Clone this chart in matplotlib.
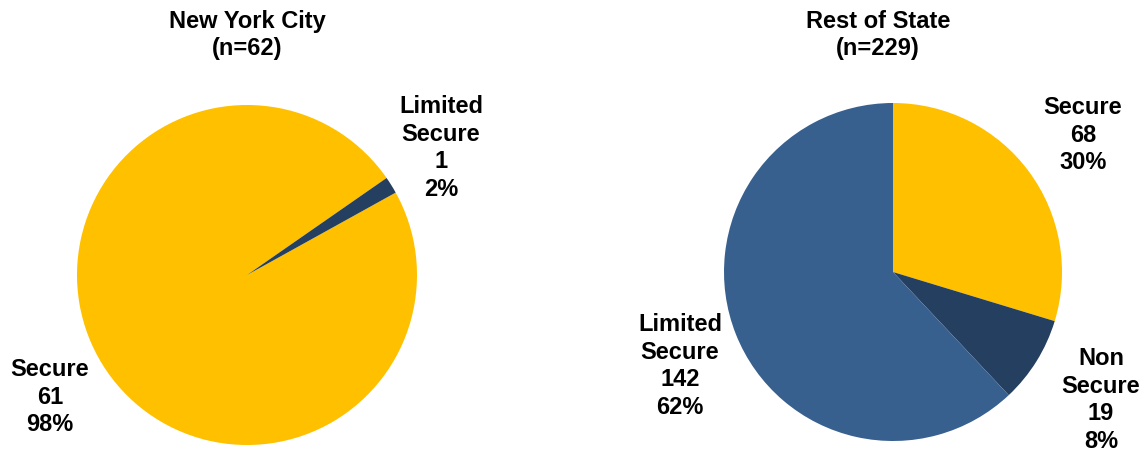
import matplotlib
matplotlib.use("Agg")
import matplotlib.pyplot as plt

plt.rcParams["font.family"] = ["Liberation Sans", "DejaVu Sans"]

W, H = 1140, 454

# data
nyc_labels = ["Secure", "Limited Secure"]
nyc_counts = [61, 1]
nyc_colors = ["#FFC000", "#243F60"]

ros_labels = ["Secure", "Non Secure", "Limited Secure"]
ros_counts = [68, 19, 142]
ros_colors = ["#FFC000", "#243F60", "#37608F"]

fig = plt.figure(figsize=(W / 100, H / 100), dpi=100)


def pie_ax(cx, cy, r):
    # cx, cy, r in pixels, y from top
    return fig.add_axes([(cx - r) / W, (H - cy - r) / H, 2 * r / W, 2 * r / H])


def label(x, y, s):
    fig.text(x / W, 1 - y / H, s, ha="center", va="center", fontsize=17,
             fontweight="bold", linespacing=1.27)


ax1 = pie_ax(247, 275, 170)
ax1.pie(nyc_counts, colors=nyc_colors, startangle=29, counterclock=False,
        wedgeprops=dict(linewidth=0))
ax1.set_xlim(-1, 1)
ax1.set_ylim(-1, 1)

ax2 = pie_ax(893, 272, 169)
ax2.pie(ros_counts, colors=ros_colors, startangle=90, counterclock=False,
        wedgeprops=dict(linewidth=0))
ax2.set_xlim(-1, 1)
ax2.set_ylim(-1, 1)

label(247, 35, "New York City\n(n=62)")
label(878, 35, "Rest of State\n(n=229)")

tot1 = sum(nyc_counts)
label(441, 148, f"Limited\nSecure\n{nyc_counts[1]}\n{round(100 * nyc_counts[1] / tot1)}%")
label(50, 397, f"Secure\n{nyc_counts[0]}\n{round(100 * nyc_counts[0] / tot1)}%")

tot2 = sum(ros_counts)
label(1083, 135, f"Secure\n{ros_counts[0]}\n{round(100 * ros_counts[0] / tot2)}%")
label(1101, 400, f"Non\nSecure\n{ros_counts[1]}\n{round(100 * ros_counts[1] / tot2)}%")
label(680, 366, f"Limited\nSecure\n{ros_counts[2]}\n{round(100 * ros_counts[2] / tot2)}%")

fig.savefig("out.png", dpi=100)
